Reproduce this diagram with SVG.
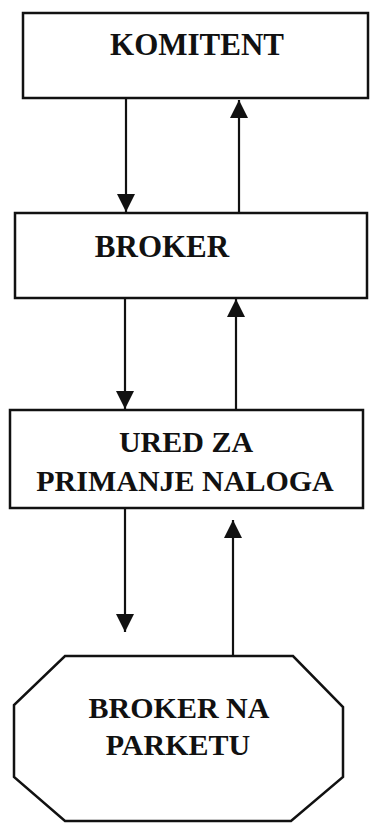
<svg xmlns="http://www.w3.org/2000/svg" width="370" height="823" viewBox="0 0 370 823">
<style>
.box{fill:#fff;stroke:#111;stroke-width:2.5}
.lbl{font-family:"Liberation Serif","Times New Roman",serif;font-weight:bold;font-size:31px;fill:#111;text-anchor:middle}
.con{stroke:#111;stroke-width:2.2;fill:none}
</style>
<defs>
<marker id="ah" markerUnits="userSpaceOnUse" markerWidth="18" markerHeight="19" refX="18" refY="9" orient="auto">
<path d="M0,0 L18,9 L0,18 Z" fill="#111"/>
</marker>
</defs>
<rect width="370" height="823" fill="#fff"/>
<g id="komitent">
<rect class="box" x="23" y="13" width="345" height="85"/>
<text class="lbl" x="197" y="55">KOMITENT</text>
</g>
<g id="broker">
<rect class="box" x="15" y="213" width="352" height="85"/>
<text class="lbl" x="162" y="257">BROKER</text>
</g>
<g id="ured">
<rect class="box" x="10" y="410" width="353" height="98"/>
<text class="lbl" x="186" y="452" style="font-size:30px">URED ZA</text>
<text class="lbl" x="185" y="491" style="font-size:30px">PRIMANJE NALOGA</text>
</g>
<g id="broker-parket">
<polygon class="box" points="65,656 293,656 343,707 343,777 291,821 65,821 14,777 14,705"/>
<text class="lbl" x="179" y="718" style="font-size:30px">BROKER NA</text>
<text class="lbl" x="178" y="755" style="font-size:30px">PARKETU</text>
</g>
<g id="connectors">
<line class="con" x1="126" y1="98" x2="126" y2="212" marker-end="url(#ah)"/>
<line class="con" x1="239" y1="212" x2="239" y2="100" marker-end="url(#ah)"/>
<line class="con" x1="125" y1="298" x2="125" y2="409" marker-end="url(#ah)"/>
<line class="con" x1="236" y1="410" x2="236" y2="299" marker-end="url(#ah)"/>
<line class="con" x1="125" y1="508" x2="125" y2="632" marker-end="url(#ah)"/>
<line class="con" x1="233" y1="656" x2="233" y2="520" marker-end="url(#ah)"/>
</g>
</svg>
